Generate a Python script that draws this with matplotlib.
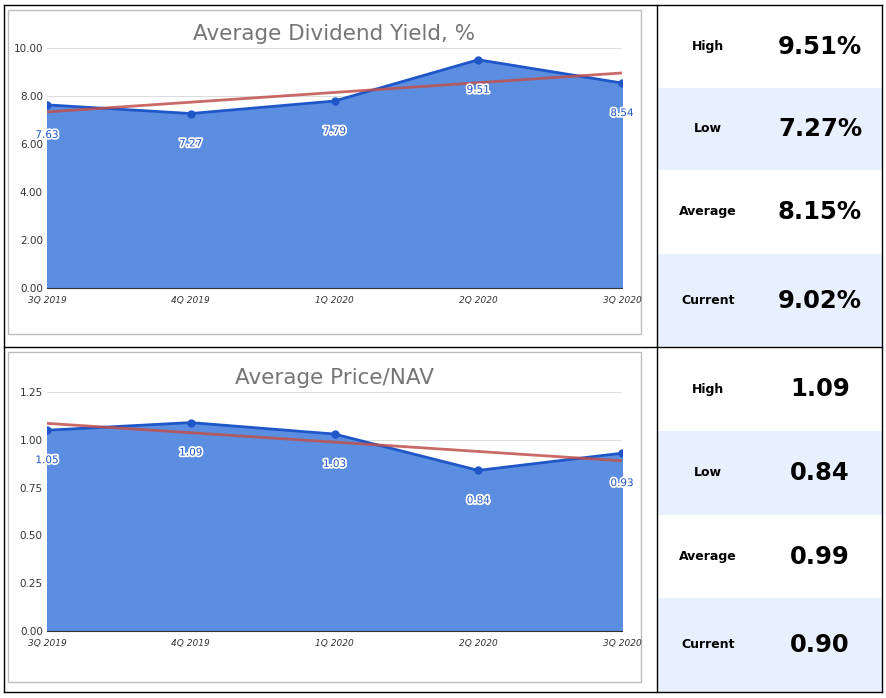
import numpy as np
import matplotlib.pyplot as plt
import matplotlib.patheffects as pe
from matplotlib.patches import Rectangle

quarters = ["3Q 2019", "4Q 2019", "1Q 2020", "2Q 2020", "3Q 2020"]
yield_vals = [7.63, 7.27, 7.79, 9.51, 8.54]
nav_vals = [1.05, 1.09, 1.03, 0.84, 0.93]

stat_names = ["High", "Low", "Average", "Current"]
yield_stats = ["9.51%", "7.27%", "8.15%", "9.02%"]
nav_stats = ["1.09", "0.84", "0.99", "0.90"]

W, H = 886, 698
fig = plt.figure(figsize=(W / 100, H / 100), dpi=100)


def fx(px):
    return px / W


def fy(py):
    return 1 - py / H


# table grid
bg = fig.add_axes([0, 0, 1, 1])
bg.set_xlim(0, W)
bg.set_ylim(H, 0)
bg.axis("off")

row_edges = [[5, 88, 170, 254, 347], [347, 431, 515, 598, 692]]
for edges in row_edges:
    for i in range(4):
        if i % 2 == 1:
            bg.add_patch(Rectangle((657, edges[i]), 225, edges[i + 1] - edges[i],
                                   color="#e8f0fe", lw=0))
for yy in [5, 347, 692]:
    bg.plot([4, 882], [yy, yy], color="black", lw=1)
for xx in [4, 657, 882]:
    bg.plot([xx, xx], [5, 692], color="black", lw=1)
# inner chart frames
for top, bot in [(10, 334), (352, 682)]:
    bg.add_patch(Rectangle((8, top), 633, bot - top, fill=False, ec="#bdbdbd", lw=1))

for edges, vals in zip(row_edges, [yield_stats, nav_stats]):
    for i, (name, v) in enumerate(zip(stat_names, vals)):
        yc = (edges[i] + edges[i + 1]) / 2
        bg.text(708, yc, name, ha="center", va="center", fontsize=9,
                fontweight="bold", family="DejaVu Sans")
        bg.text(820, yc, v, ha="center", va="center", fontsize=17.5,
                fontweight="bold", family="DejaVu Sans")


def chart(vals, rect, ylim, ticks, fmt, title, title_y):
    left, right, top, bottom = rect
    ax = fig.add_axes([fx(left), fy(bottom), fx(right - left), (bottom - top) / H])
    x = np.arange(len(vals))
    ax.fill_between(x, vals, color="#5b8ee0", alpha=1)
    ax.plot(x, vals, color="#1f56c8", lw=2, marker="o", ms=5)
    k, b = np.polyfit(x, vals, 1)
    ax.plot(x, k * x + b, color="#c0504d", lw=2, alpha=0.85)
    ax.set_xlim(0, len(vals) - 1)
    ax.set_ylim(*ylim)
    ax.set_yticks(ticks)
    ax.set_yticklabels([fmt.format(t) for t in ticks], fontsize=7.5, color="#333333")
    ax.set_xticks(x)
    ax.set_xticklabels(quarters, fontsize=6.5, style="italic", color="#333333")
    ax.tick_params(axis="x", length=0, pad=6)
    ax.tick_params(axis="y", length=0, pad=3)
    ax.grid(axis="y", color="#dddddd", lw=0.8)
    ax.set_axisbelow(True)
    for s in ax.spines.values():
        s.set_visible(False)
    ax.spines["bottom"].set_visible(True)
    ax.spines["bottom"].set_color("#333333")
    off = (ylim[1] - ylim[0]) * 0.125
    for xi, v in zip(x, vals):
        ax.text(xi, v - off, "{:.2f}".format(v), ha="center", va="center",
                fontsize=7.5, color="#1f56c8",
                path_effects=[pe.withStroke(linewidth=2.5, foreground="white")])
    fig.text(fx((left + right) / 2), fy(title_y), title, ha="center", va="center",
             fontsize=15.5, color="#757575")


chart(yield_vals, (47, 622, 48, 288), (0, 10), [0, 2, 4, 6, 8, 10], "{:.2f}",
      "Average Dividend Yield, %", 34)
chart(nav_vals, (47, 622, 392, 631), (0, 1.25), [0, 0.25, 0.5, 0.75, 1.0, 1.25],
      "{:.2f}", "Average Price/NAV", 378)

fig.savefig("out.png", dpi=100)
